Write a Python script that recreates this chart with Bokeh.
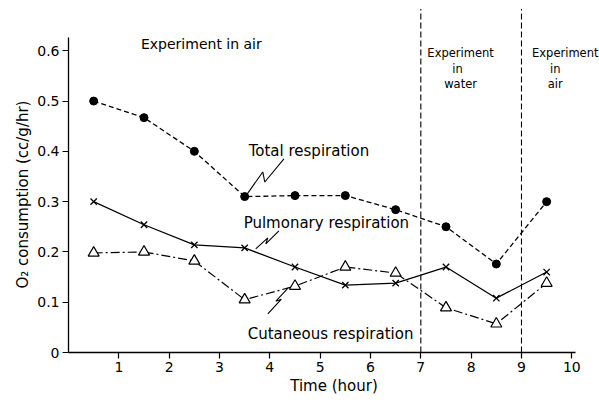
from bokeh.plotting import figure
from bokeh.models import ColumnDataSource, FixedTicker, Title
from bokeh.core.properties import value
from bokeh.embed import file_html
from bokeh.resources import INLINE

# Oxygen consumption per hour of the experiment (cc/g/hr)
hours = [0.5, 1.5, 2.5, 3.5, 4.5, 5.5, 6.5, 7.5, 8.5, 9.5]
total = [0.50, 0.467, 0.40, 0.31, 0.312, 0.312, 0.284, 0.25, 0.176, 0.30]
pulmonary = [0.30, 0.254, 0.214, 0.208, 0.17, 0.134, 0.138, 0.17, 0.108, 0.16]
cutaneous = [0.198, 0.20, 0.182, 0.105, 0.132, 0.17, 0.158, 0.089, 0.057, 0.138]

# Boundaries between the air / water / air phases
phase_bounds = [7, 9]

x_ticks = [1, 2, 3, 4, 5, 6, 7, 8, 9, 10]
y_ticks = [0, 0.1, 0.2, 0.3, 0.4, 0.5, 0.6]
y_tick_labels = ["0", "0.1", "0.2", "0.3", "0.4", "0.5", "0.6"]

# Curve names and phase captions
curve_names = ["Experiment in air", "Total respiration",
               "Pulmonary respiration", "Cutaneous respiration"]
curve_name_x = [1.44, 3.58, 3.48, 3.56]
curve_name_y = [0.614, 0.401, 0.258, 0.037]
curve_name_size = ["14px", "15px", "15px", "15px"]

phase_lines = ["Experiment", "in", "water", "Experiment", "in", "air"]
phase_line_x = [7.79, 7.73, 7.79, 9.87, 9.67, 9.67]
phase_line_y = [0.595, 0.563, 0.533, 0.595, 0.563, 0.533]

# Zig-zag pointers from each caption to its curve
bolt_total_x = [4.28, 3.90, 3.86, 3.52]
bolt_total_y = [0.385, 0.339, 0.359, 0.311]
bolt_pulm_x = [4.18, 3.92, 3.96, 3.72]
bolt_pulm_y = [0.242, 0.216, 0.228, 0.206]
bolt_cut_x = [3.96, 4.23, 4.12, 4.36]
bolt_cut_y = [0.077, 0.106, 0.102, 0.128]

FONT = "DejaVu Sans"

p = figure(width=599, height=404, x_range=(0, 10.55), y_range=(0, 0.69),
           output_backend="svg", toolbar_location=None,
           min_border_left=68, min_border_right=0, min_border_top=5,
           min_border_bottom=52)
p.outline_line_color = None
p.grid.visible = False
p.background_fill_color = "white"
p.border_fill_color = "white"

for ax in (p.xaxis, p.yaxis):
    ax.axis_line_color = "black"
    ax.axis_line_width = 1.3
    ax.major_tick_line_color = "black"
    ax.major_tick_line_width = 1.2
    ax.major_tick_in = 0
    ax.major_tick_out = 6
    ax.minor_tick_line_color = None
    ax.major_label_text_font = FONT
    ax.major_label_text_font_size = "14px"
    ax.major_label_text_color = "black"

p.xaxis.ticker = FixedTicker(ticks=x_ticks)
p.xaxis.bounds = (0, 10.07)
p.xaxis.major_label_standoff = 3
p.xaxis.axis_label = "Time (hour)"
p.xaxis.axis_label_text_font = FONT
p.xaxis.axis_label_text_font_style = "normal"
p.xaxis.axis_label_text_font_size = "15px"
p.xaxis.axis_label_text_color = "black"
p.xaxis.axis_label_standoff = 2

p.yaxis.ticker = FixedTicker(ticks=y_ticks)
p.yaxis.major_label_overrides = {t: s for t, s in zip(y_ticks, y_tick_labels)}
p.yaxis.bounds = (0, 0.626)
p.yaxis.major_label_standoff = 3

# y-axis title beside the axis
p.add_layout(Title(text="O\u2082 consumption (cc/g/hr)", align="left",
                   offset=64, standoff=6, text_font=FONT,
                   text_font_size="15px", text_font_style="normal",
                   text_color="black"), "left")

# Phase boundaries
p.segment(x0=phase_bounds, y0=[0] * len(phase_bounds),
          x1=phase_bounds, y1=[0.683] * len(phase_bounds),
          line_color="black", line_width=1.1, line_dash="6 3")

# Total respiration: dashed with filled dots
p.line(hours, total, line_color="black", line_width=1.3, line_dash="5 3")
p.scatter(hours, total, marker="circle", size=8, fill_color="black",
          line_color="black")

# Pulmonary respiration: solid with crosses
p.line(hours, pulmonary, line_color="black", line_width=1.3)
p.scatter(hours, pulmonary, marker="x", size=9, line_color="black",
          line_width=1.3)

# Cutaneous respiration: dash-dot with open triangles
p.line(hours, cutaneous, line_color="black", line_width=1.2,
       line_dash="9 3 2 3")
p.scatter(hours, cutaneous, marker="triangle", size=11, fill_color="white",
          line_color="black", line_width=1.2)

for bx, by in ((bolt_total_x, bolt_total_y), (bolt_pulm_x, bolt_pulm_y),
               (bolt_cut_x, bolt_cut_y)):
    p.line(bx, by, line_color="black", line_width=1.1)

names = ColumnDataSource(dict(x=curve_name_x, y=curve_name_y, t=curve_names,
                              s=curve_name_size))
p.text(x="x", y="y", text="t", source=names, text_font=value(FONT),
       text_font_size="s", text_color="black", text_align="left",
       text_baseline="middle")

phases = ColumnDataSource(dict(x=phase_line_x, y=phase_line_y, t=phase_lines))
p.text(x="x", y="y", text="t", source=phases, text_font=value(FONT),
       text_font_size="11.5px", text_color="black", text_align="center",
       text_baseline="middle")

open("out.html", "w").write(file_html(p, INLINE))
